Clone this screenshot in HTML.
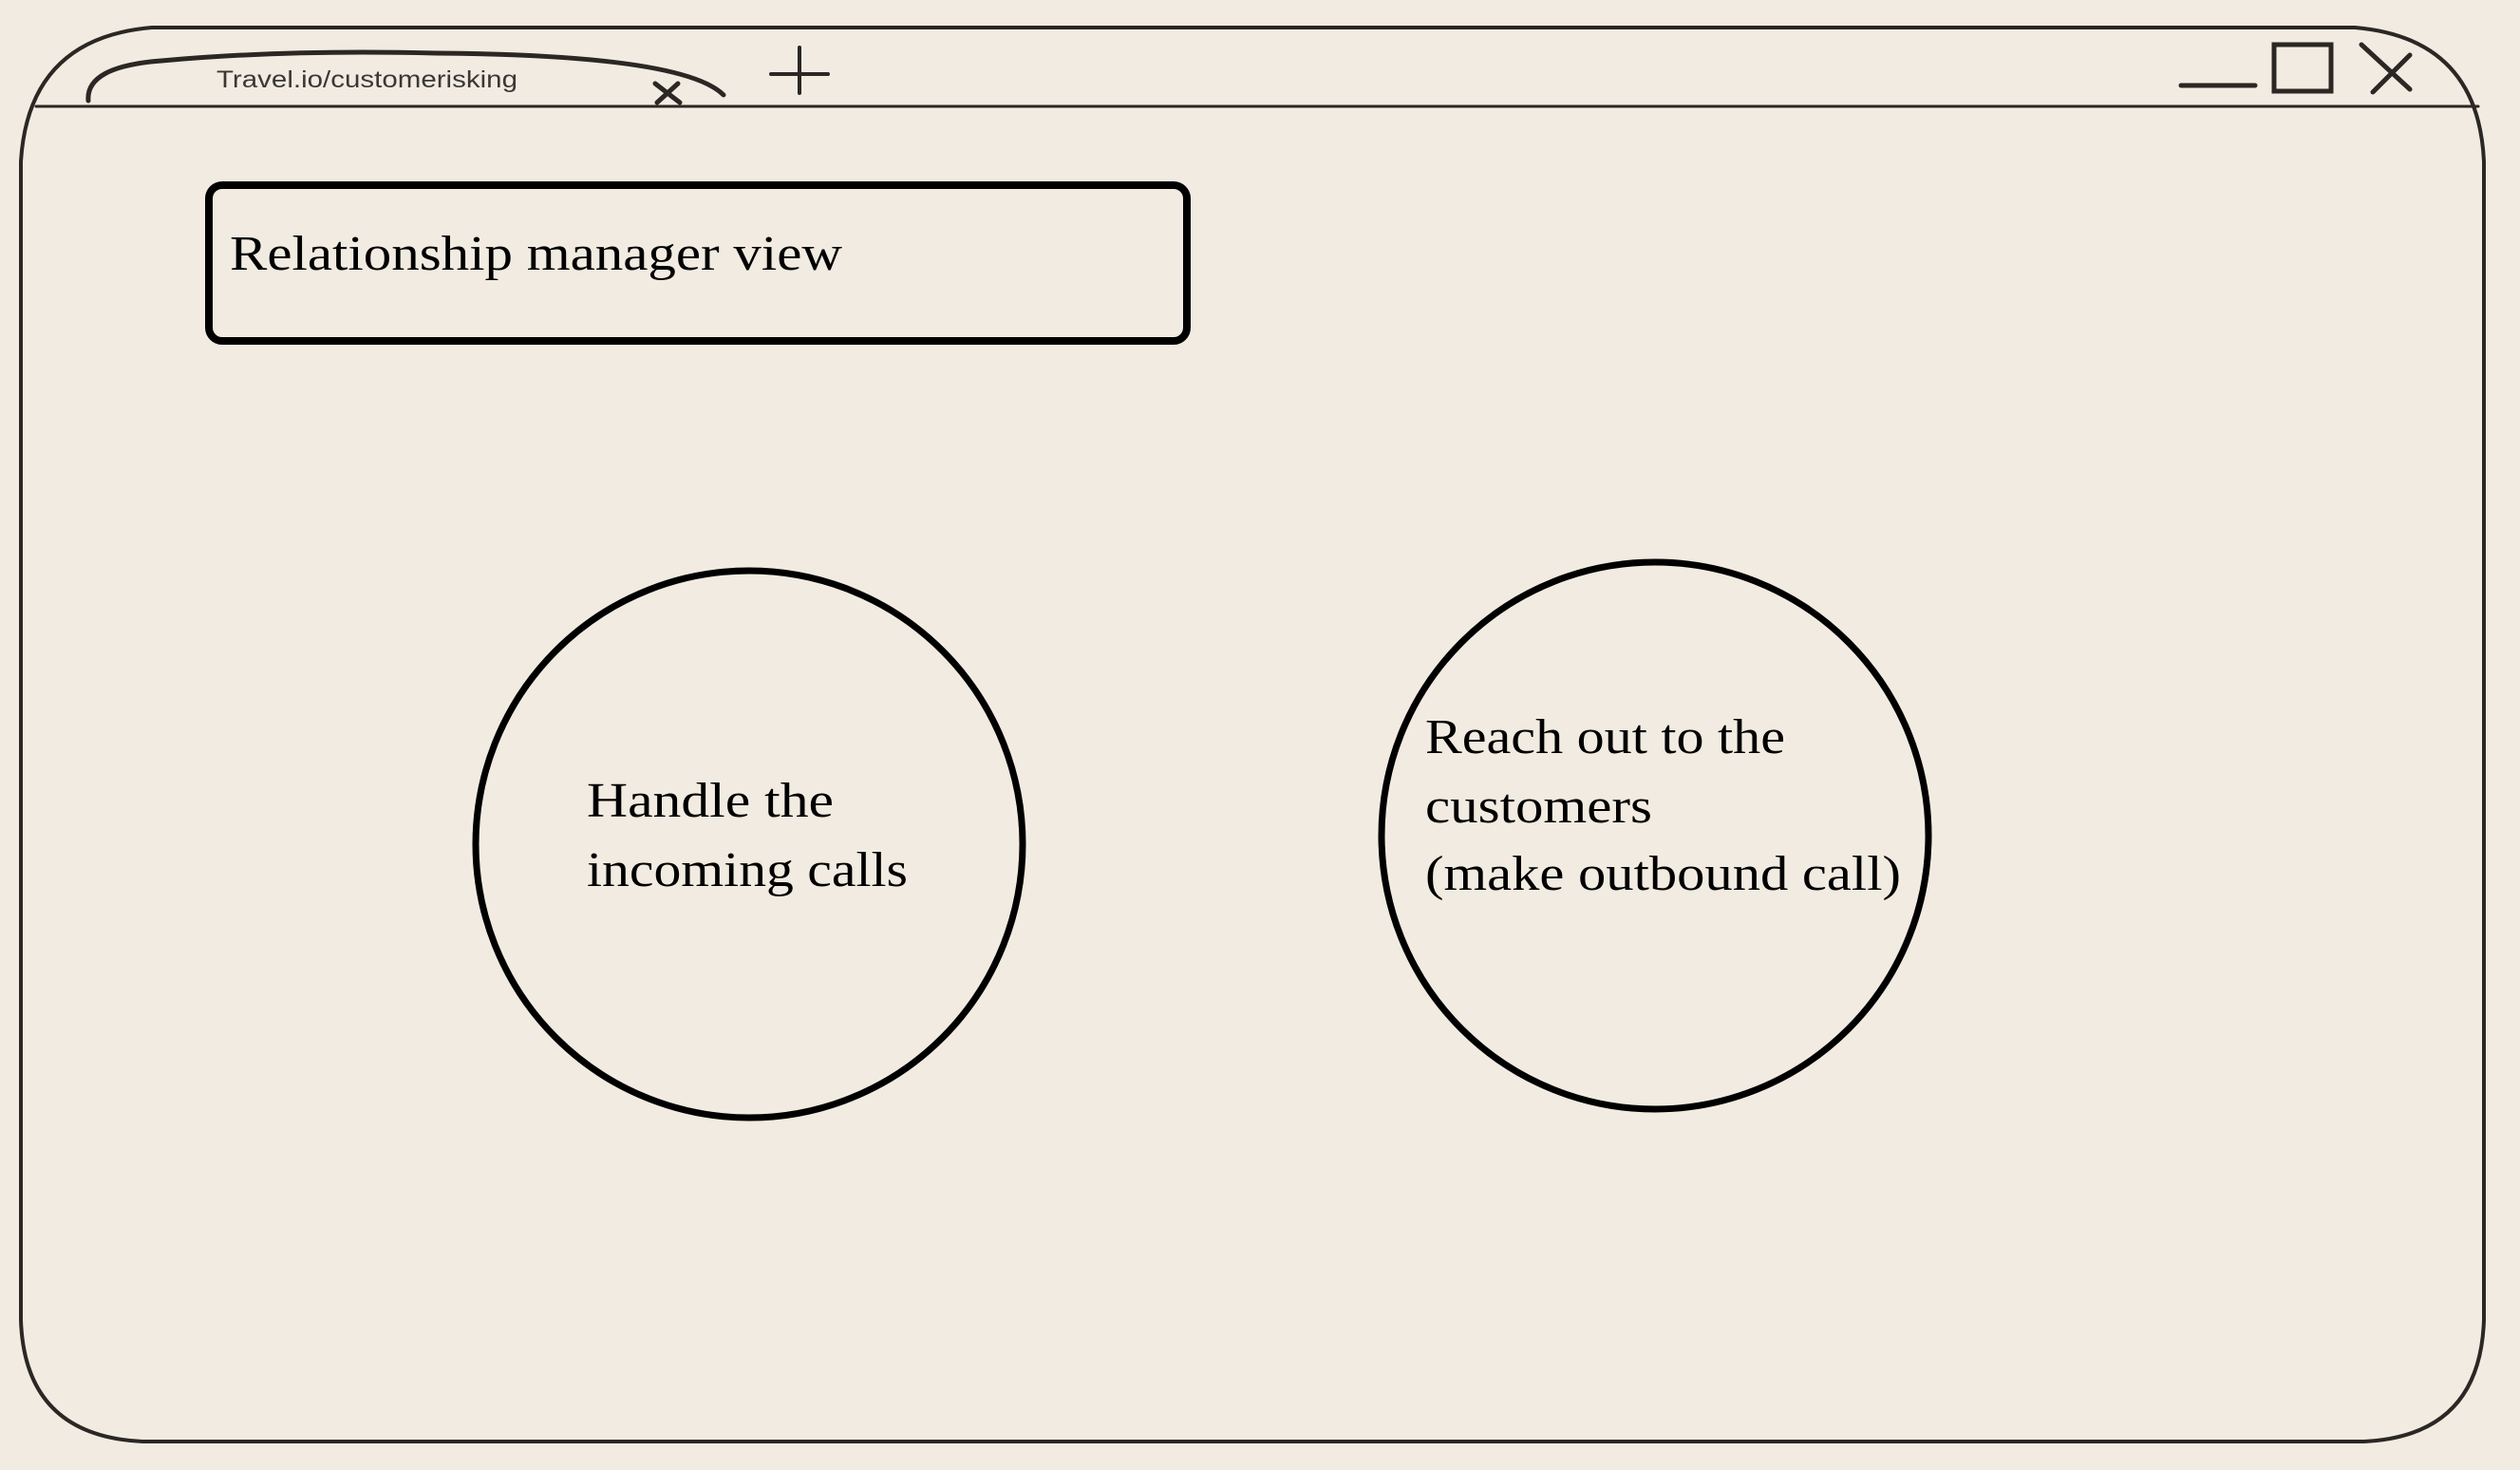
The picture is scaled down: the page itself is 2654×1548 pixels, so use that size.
<!DOCTYPE html>
<html><head><meta charset="utf-8"><style>
html,body{margin:0;padding:0;background:#f1ebe1;}
svg{display:block}
</style></head><body>
<svg width="2654" height="1548" viewBox="0 0 2654 1548" xmlns="http://www.w3.org/2000/svg">
<rect width="2654" height="1548" fill="#f1ebe1"/>
<g fill="none" stroke="#2a2724" stroke-linecap="round">
<path d="M160 29 H2480 Q2610 40 2616 170 V1390 Q2612 1512 2490 1518 H150 Q26 1512 22 1390 V170 Q30 40 160 29 Z" stroke-width="4"/>
<path d="M38 112 H2610" stroke-width="3"/>
<path d="M93 106 Q90 70 170 64 Q300 52 460 56 Q720 58 762 100" stroke-width="5"/>
<path d="M690 88 L716 108 M714 88 L692 108" stroke-width="5"/>
<path d="M812 78 H872 M842 50 V98" stroke-width="4"/>
<path d="M2297 90 H2375" stroke-width="5"/>
<rect x="2395" y="47" width="60" height="49" stroke-width="5"/>
<path d="M2487 47 L2538 94 M2499 97 L2538 58" stroke-width="5"/>
</g>
<text x="228" y="92" font-family="Liberation Sans, sans-serif" font-size="25" fill="#3a3734" textLength="317" lengthAdjust="spacingAndGlyphs">Travel.io/customerisking</text>
<rect x="220" y="195" width="1030" height="164" rx="14" fill="none" stroke="#000" stroke-width="8"/>
<text x="242" y="284" font-family="Liberation Serif, serif" font-size="52" fill="#000" textLength="645" lengthAdjust="spacingAndGlyphs">Relationship manager view</text>
<circle cx="789" cy="889" r="288" fill="none" stroke="#000" stroke-width="7"/>
<circle cx="1743" cy="880" r="288" fill="none" stroke="#000" stroke-width="7"/>
<g font-family="Liberation Serif, serif" font-size="52" fill="#000">
<text x="618" y="860" textLength="260" lengthAdjust="spacingAndGlyphs">Handle the</text>
<text x="618" y="933" textLength="338" lengthAdjust="spacingAndGlyphs">incoming calls</text>
<text x="1501" y="793" textLength="379" lengthAdjust="spacingAndGlyphs">Reach out to the</text>
<text x="1501" y="866" textLength="239" lengthAdjust="spacingAndGlyphs">customers</text>
<text x="1501" y="937" textLength="501" lengthAdjust="spacingAndGlyphs">(make outbound call)</text>
</g>
</svg>
</body></html>
